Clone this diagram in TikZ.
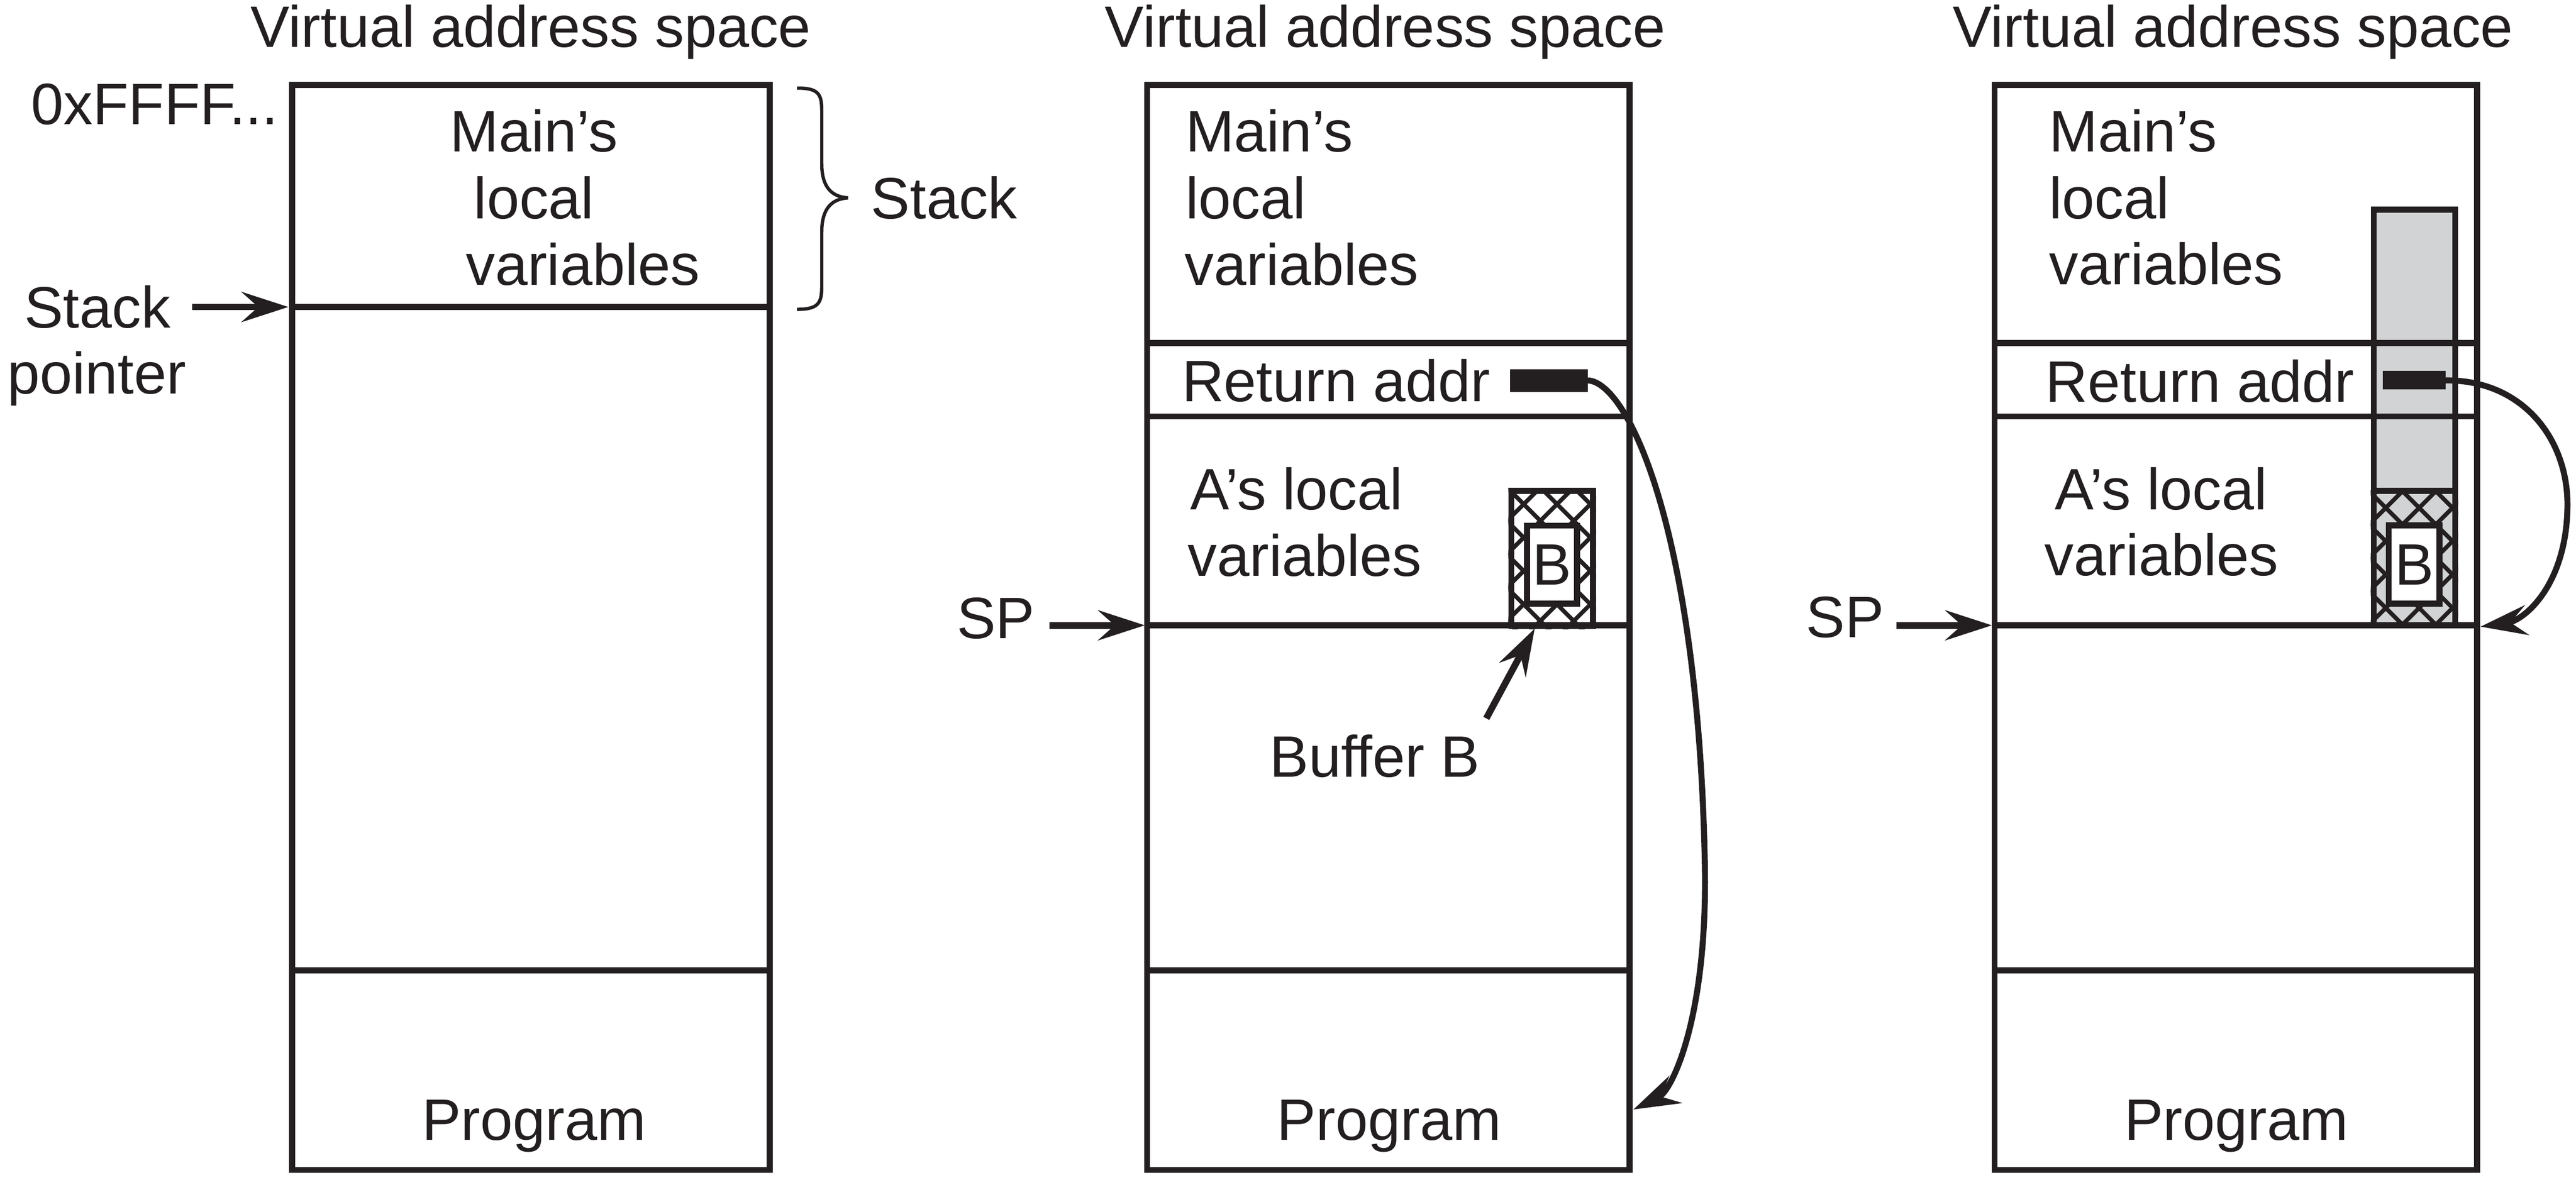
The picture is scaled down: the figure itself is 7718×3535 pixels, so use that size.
\documentclass[tikz,border=0pt]{standalone}
\usepackage{fontspec}
\setmainfont{Liberation Sans}
\usetikzlibrary{arrows.meta}
\definecolor{ink}{RGB}{35,31,32}
\definecolor{colgray}{RGB}{209,211,212}
\begin{document}
\begin{tikzpicture}[x=0.1pt,y=-0.1pt,
  txt/.style={inner sep=0pt, anchor=base west, font=\fontsize{17.5}{20}\selectfont, text=ink},
  ctxt/.style={txt, anchor=base},
  wall/.style={line width=1.8pt, draw=ink},
  ptr/.style={line width=2pt, draw=ink, -{Stealth[length=14pt,width=9pt,inset=5pt]}},
  curvearrow/.style={line width=1.8pt, draw=ink, -{Stealth[length=14pt,width=9pt,inset=5pt]}},
  hatchline/.style={line width=1.25pt, draw=ink},
  bracestyle/.style={line width=1pt, draw=ink},
  barstyle/.style={fill=ink, draw=none}
]
\useasboundingbox (0,0) rectangle (7718,3535);

% ---------------- titles ----------------
\node[ctxt] (t1) at (1590,141) {Virtual address space};
\node[ctxt] (t2) at (4150,141) {Virtual address space};
\node[ctxt] (t3) at (6690,141) {Virtual address space};

% ---------------- panel 3 gray column (background) ----------------
\fill[colgray] (7112,628) rectangle (7356,1874);
\begin{scope}
  \clip (7103,1471) rectangle (7365,1882);
  \foreach \k in {-6,...,4} {\draw[hatchline] ({5626+100*\k+1400},1400) -- ({5626+100*\k+1950},1950);}
  \foreach \k in {-2,...,7} {\draw[hatchline] ({8670+100*\k-1400},1400) -- ({8670+100*\k-1950},1950);}
\end{scope}

% ---------------- panel 2 hatched buffer ----------------
\begin{scope}
  \clip (4519,1462) rectangle (4782,1885);
  \foreach \k in {-6,...,4} {\draw[hatchline] ({3054+100*\k+1400},1400) -- ({3054+100*\k+1950},1950);}
  \foreach \k in {-2,...,7} {\draw[hatchline] ({6076+100*\k-1400},1400) -- ({6076+100*\k-1950},1950);}
\end{scope}

% ---------------- panel outlines ----------------
% panel 1
\draw[wall] (875,255) rectangle (2306,3506);
\draw[wall] (875,920) -- (2306,920);
\draw[wall] (875,2908) -- (2306,2908);
% panel 2
\draw[wall] (3437,255) rectangle (4882,3506);
\draw[wall] (3437,1028) -- (4882,1028);
\draw[wall] (3437,1248) -- (4882,1248);
\draw[wall] (3437,1874) -- (4882,1874);
\draw[wall] (3437,2908) -- (4882,2908);
% panel 3
\draw[wall] (5976,255) rectangle (7422,3506);
\draw[wall] (5976,1028) -- (7422,1028);
\draw[wall] (5976,1248) -- (7422,1248);
\draw[wall] (5976,1874) -- (7422,1874);
\draw[wall] (5976,2908) -- (7422,2908);

% ---------------- buffer boxes ----------------
\draw[wall] (4528,1471) rectangle (4773,1876);
\draw[wall, fill=white] (4575,1575) rectangle (4725,1809);
\node[txt, anchor=center] (bufB2) at (4650,1692) {B};

\draw[wall] (7112,628) rectangle (7356,1874);
\draw[wall] (7112,1471) -- (7356,1471);
\draw[wall, fill=white] (7157,1574) rectangle (7309,1809);
\node[txt, anchor=center] (bufB3) at (7233,1692) {B};

% ---------------- return address bars ----------------
\fill[ink] (4524,1106) rectangle (4757,1175);
\coordinate (bar2e) at (4757,1140);
\fill[ink] (7139,1112) rectangle (7327,1167);
\coordinate (bar3e) at (7327,1140);

% ---------------- panel 1 texts ----------------
\node[txt] (hex) at (92,373) {0xFFFF...};
\node[txt] (m1a) at (1347,454) {Main’s};
\node[txt] (m1b) at (1418,655) {local};
\node[txt] (m1c) at (1394,854) {variables};
\node[txt] (stk) at (2608,655) {Stack};
\node[txt] (spa) at (71,982) {Stack};
\node[txt] (spb) at (20,1180) {pointer};
\node[ctxt] (prog1) at (1600,3416) {Program};

% ---------------- panel 2 texts ----------------
\node[txt] (m2a) at (3550,454) {Main’s};
\node[txt] (m2b) at (3550,655) {local};
\node[txt] (m2c) at (3548,854) {variables};
\node[txt] (ra2) at (3539,1203) {Return addr};
\node[txt] (a2a) at (3565,1528) {A’s local};
\node[txt] (a2b) at (3557,1727) {variables};
\node[txt] (sp2) at (2865,1914) {SP};
\node[txt] (buf) at (3802,2329) {Buffer B};
\node[ctxt] (prog2) at (4162,3416) {Program};

% ---------------- panel 3 texts ----------------
\node[txt] (m3a) at (6138,455) {Main’s};
\node[txt] (m3b) at (6138,656) {local};
\node[txt] (m3c) at (6138,853) {variables};
\node[txt] (ra3) at (6127,1204) {Return addr};
\node[txt] (a3a) at (6155,1527) {A’s local};
\node[txt] (a3b) at (6124,1725) {variables};
\node[txt] (sp3) at (5409,1910) {SP};
\node[ctxt] (prog3) at (6700,3416) {Program};

% ---------------- brace ----------------
\draw[bracestyle] (2388,264) .. controls (2450,264) and (2462,280) .. (2462,330)
  -- (2462,490) .. controls (2462,565) and (2495,590) .. (2541,593)
  .. controls (2495,596) and (2462,621) .. (2462,696)
  -- (2462,860) .. controls (2462,910) and (2450,927) .. (2388,927);

% ---------------- arrows ----------------
\coordinate (sp1tail) at (576,920);
\coordinate (sp1tip) at (864,920);
\draw[ptr] (sp1tail) -- (sp1tip);

\coordinate (sp2tail) at (3144,1874);
\coordinate (sp2tip) at (3430,1874);
\draw[ptr] (sp2tail) -- (sp2tip);

\coordinate (sp3tail) at (5682,1874);
\coordinate (sp3tip) at (5968,1874);
\draw[ptr] (sp3tail) -- (sp3tip);

\coordinate (buftail) at (4453,2153);
\coordinate (buftip) at (4598,1884);
\draw[ptr] (buftail) -- (buftip);

\coordinate (ret2) at (4894,3325);
\draw[curvearrow] (bar2e) .. controls (4880,1145) and (5090,1600) .. (5108,2600)
  .. controls (5115,3050) and (5010,3270) .. (ret2);

\coordinate (ret3) at (7432,1878);
\draw[curvearrow] (bar3e) .. controls (7560,1138) and (7700,1320) .. (7692,1530)
  .. controls (7685,1760) and (7560,1860) .. (ret3);

\end{tikzpicture}
\end{document}
